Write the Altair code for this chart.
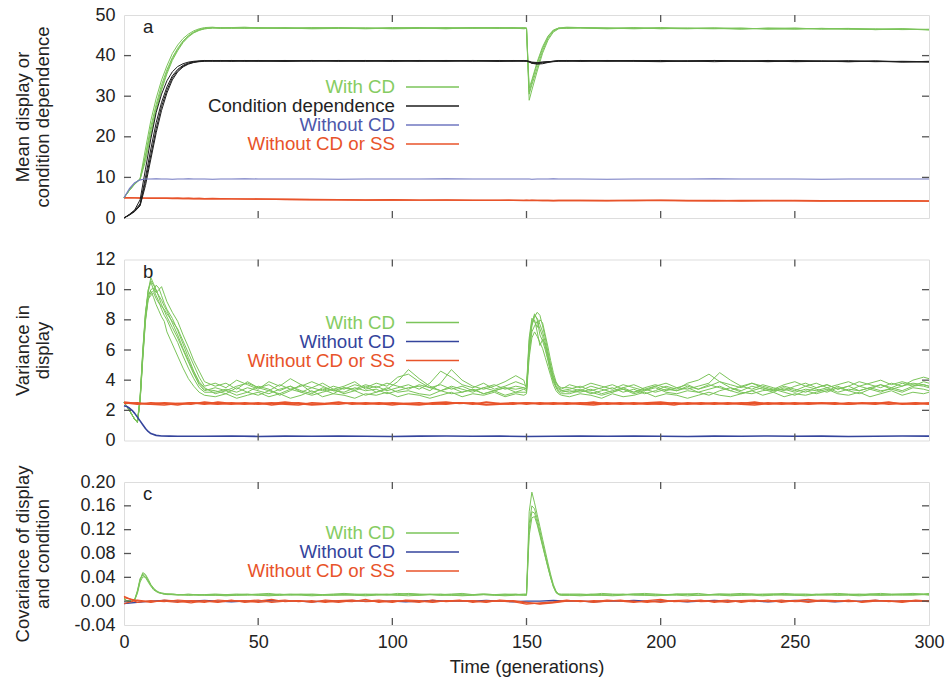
import altair as alt
import pandas as pd

FONT = "Liberation Sans"
W = 805
FRAME = "#555555"
TXT = "#222222"
GREEN = "#7bc45a"
GREEN_TXT = "#86cc62"
BLACK = "#1e1e1e"
BLUE = "#34449c"
BLUE_A = "#7177c0"
BLUE_A_TXT = "#4d57aa"
RED = "#e8532a"

# ---------------- time grids (generations) ----------------
T_A = [0, 2, 4, 6, 8, 10, 12, 14, 16, 18, 20, 22, 24, 26, 28, 30, 33, 36, 40, 45, 50,
       60, 70, 80, 90, 100, 110, 120, 130, 140, 145, 149, 150, 151, 152, 154, 156, 158,
       160, 162, 165, 170, 180, 190, 200, 210, 220, 230, 240, 250, 260, 270, 280, 290, 300]
T_B = (list(range(0, 17)) + list(range(18, 31, 2)) + list(range(34, 147, 4))
       + list(range(149, 164)) + list(range(166, 299, 4)) + [300])
T_R = list(range(0, 301, 5))
T_BLUE_B = [0, 1, 2, 3, 4, 5, 6, 7, 8, 9, 10, 12, 14, 17, 20] + list(range(30, 301, 10))

# ---------------- panel a: mean display / condition dependence ----------------
A_WITH_CD = [
    [5.0, 6.8, 8.4, 9.6, 15.5, 22.5, 28.0, 32.8, 36.5, 39.5, 41.8, 43.6, 44.9, 45.8, 46.4, 46.7,
     46.9, 46.8, 46.9, 46.7, 46.8, 46.9, 46.7, 46.8, 46.6, 46.8, 46.9, 46.7, 46.8, 46.9, 46.8,
     46.8, 46.7, 29.0, 31.5, 36.2, 40.6, 43.8, 45.8, 46.6, 46.9, 46.8, 46.7, 46.9, 46.6, 46.8,
     46.7, 46.5, 46.8, 46.6, 46.7, 46.5, 46.6, 46.4, 46.5],
    [5.0, 6.8, 8.3, 9.5, 14.0, 20.5, 26.5, 31.5, 35.5, 38.8, 41.2, 43.2, 44.6, 45.6, 46.2, 46.6,
     46.8, 46.9, 46.7, 46.8, 46.9, 46.7, 46.8, 46.9, 46.8, 46.7, 46.8, 46.9, 46.7, 46.8, 46.9,
     46.7, 46.8, 30.5, 32.8, 37.0, 41.2, 44.2, 46.0, 46.7, 46.8, 46.9, 46.8, 46.6, 46.8, 46.7,
     46.6, 46.8, 46.5, 46.7, 46.6, 46.7, 46.4, 46.6, 46.4],
    [5.0, 6.9, 8.5, 9.7, 17.0, 24.0, 29.5, 34.0, 37.5, 40.5, 42.6, 44.2, 45.3, 46.1, 46.6, 46.9,
     47.0, 46.8, 46.9, 47.0, 46.8, 46.7, 46.9, 46.8, 46.7, 46.9, 46.8, 46.6, 46.9, 46.8, 46.7,
     46.9, 46.8, 31.0, 33.5, 38.0, 41.8, 44.6, 46.2, 46.8, 47.0, 46.9, 46.8, 46.7, 46.9, 46.7,
     46.8, 46.6, 46.7, 46.8, 46.5, 46.6, 46.5, 46.6, 46.3],
    [5.0, 6.8, 8.4, 9.6, 15.0, 21.5, 27.2, 32.0, 36.0, 39.2, 41.5, 43.4, 44.8, 45.7, 46.3, 46.6,
     46.8, 46.7, 46.8, 46.9, 46.7, 46.8, 46.6, 46.7, 46.8, 46.6, 46.7, 46.8, 46.9, 46.7, 46.8,
     46.6, 46.7, 32.0, 34.0, 38.5, 42.2, 44.8, 46.3, 46.8, 46.7, 46.8, 46.6, 46.8, 46.7, 46.6,
     46.8, 46.7, 46.6, 46.5, 46.7, 46.6, 46.4, 46.5, 46.4],
]
A_COND_DEP = [
    [0.0, 0.8, 1.8, 3.5, 10.0, 17.0, 23.5, 28.5, 32.3, 35.0, 36.6, 37.6, 38.2, 38.5, 38.6, 38.7,
     38.7, 38.8, 38.6, 38.7, 38.8, 38.6, 38.7, 38.8, 38.7, 38.6, 38.8, 38.7, 38.6, 38.8, 38.7,
     38.6, 38.7, 38.5, 38.3, 38.2, 38.4, 38.5, 38.6, 38.7, 38.6, 38.8, 38.7, 38.6, 38.5, 38.7,
     38.8, 38.6, 38.7, 38.5, 38.6, 38.7, 38.5, 38.6, 38.5],
    [0.0, 0.7, 1.6, 3.0, 8.0, 14.5, 21.0, 26.5, 30.8, 34.0, 36.0, 37.2, 37.9, 38.3, 38.5, 38.6,
     38.7, 38.6, 38.8, 38.6, 38.7, 38.8, 38.6, 38.7, 38.6, 38.8, 38.7, 38.6, 38.8, 38.7, 38.6,
     38.8, 38.6, 38.4, 38.1, 38.0, 38.2, 38.4, 38.6, 38.7, 38.8, 38.6, 38.7, 38.8, 38.6, 38.7,
     38.5, 38.7, 38.6, 38.8, 38.6, 38.5, 38.7, 38.5, 38.4],
    [0.0, 0.9, 2.0, 4.5, 12.0, 19.5, 26.0, 30.5, 33.8, 36.0, 37.3, 38.0, 38.4, 38.6, 38.7, 38.8,
     38.6, 38.7, 38.8, 38.7, 38.6, 38.7, 38.8, 38.6, 38.7, 38.8, 38.6, 38.7, 38.8, 38.6, 38.7,
     38.7, 38.8, 38.6, 38.4, 38.3, 38.4, 38.5, 38.6, 38.8, 38.7, 38.6, 38.8, 38.7, 38.7, 38.6,
     38.8, 38.7, 38.5, 38.7, 38.6, 38.7, 38.6, 38.4, 38.6],
    [0.0, 0.8, 1.7, 3.2, 9.0, 15.5, 22.0, 27.5, 31.5, 34.5, 36.3, 37.4, 38.0, 38.4, 38.6, 38.7,
     38.8, 38.7, 38.6, 38.8, 38.7, 38.6, 38.8, 38.7, 38.8, 38.6, 38.7, 38.8, 38.7, 38.6, 38.8,
     38.7, 38.6, 38.5, 38.1, 37.9, 38.0, 38.3, 38.5, 38.6, 38.7, 38.8, 38.6, 38.7, 38.8, 38.6,
     38.7, 38.6, 38.8, 38.6, 38.7, 38.5, 38.6, 38.5, 38.5],
]
A_WITHOUT_CD = [
    [5.0, 7.2, 8.7, 9.4, 9.6, 9.6, 9.65, 9.6, 9.6, 9.55, 9.6, 9.6, 9.65, 9.6, 9.6, 9.6, 9.55,
     9.6, 9.6, 9.65, 9.6, 9.6, 9.6, 9.55, 9.6, 9.6, 9.6, 9.65, 9.6, 9.6, 9.6, 9.6, 9.6, 9.6,
     9.55, 9.6, 9.6, 9.6, 9.65, 9.6, 9.6, 9.6, 9.55, 9.6, 9.6, 9.6, 9.65, 9.6, 9.6, 9.6, 9.55,
     9.6, 9.6, 9.6, 9.6],
]
A_WITHOUT_CD_SS = [
    [5.0, 5.0, 4.95, 4.95, 4.9, 4.9, 4.9, 4.85, 4.9, 4.85, 4.85, 4.8, 4.85, 4.8, 4.8, 4.75, 4.8,
     4.75, 4.7, 4.7, 4.65, 4.6, 4.55, 4.5, 4.45, 4.5, 4.4, 4.45, 4.4, 4.35, 4.4, 4.35, 4.4, 4.35,
     4.4, 4.35, 4.3, 4.35, 4.3, 4.35, 4.3, 4.35, 4.3, 4.3, 4.4, 4.3, 4.25, 4.3, 4.3, 4.25, 4.2,
     4.25, 4.2, 4.25, 4.2],
    [5.0, 4.95, 4.95, 4.9, 4.9, 4.85, 4.9, 4.85, 4.85, 4.8, 4.85, 4.8, 4.8, 4.75, 4.8, 4.75, 4.7,
     4.75, 4.7, 4.65, 4.7, 4.55, 4.5, 4.5, 4.4, 4.45, 4.4, 4.4, 4.35, 4.4, 4.35, 4.3, 4.35, 4.3,
     4.35, 4.3, 4.35, 4.3, 4.25, 4.3, 4.35, 4.3, 4.25, 4.35, 4.3, 4.25, 4.3, 4.2, 4.25, 4.3, 4.25,
     4.2, 4.25, 4.2, 4.15],
]

# ---------------- panel b: variance in display ----------------
B_WITH_CD = [
    [2.5, 2.3, 2.0, 1.7, 1.4, 1.2, 2.8, 5.8, 8.3, 9.9, 10.8, 10.4, 9.9, 9.6, 9.3, 8.9, 8.6,
     7.8, 7.0, 6.1, 5.3, 4.5, 3.8, 3.4]
    + [3.3, 3.1, 3.5, 3.2, 3.6, 3.4, 3.0, 3.3, 3.7, 3.2, 3.4, 3.1, 3.5, 3.3, 3.6, 3.2, 3.4,
       3.9, 4.7, 4.1, 3.6, 3.3, 3.5, 3.2, 3.4, 3.1, 3.3, 3.5, 3.2]
    + [3.4, 3.3, 6.0, 7.6, 8.2, 8.5, 8.3, 7.6, 6.8, 5.9, 5.0, 4.3, 3.8, 3.5, 3.3]
    + [3.2, 3.4, 3.1, 3.3, 3.5, 3.2, 3.4, 3.1, 3.3, 3.6, 3.4, 3.8, 4.0, 4.4, 3.9, 3.5, 3.3,
       3.6, 3.4, 3.2, 3.5, 3.3, 3.6, 3.4, 3.2, 3.5, 3.3, 3.6, 3.4, 3.7, 3.5, 3.8, 3.6, 3.9, 3.8],
    [2.5, 2.3, 2.0, 1.7, 1.4, 1.2, 2.6, 5.5, 8.0, 9.5, 10.0, 10.1, 9.8, 10.0, 10.2, 9.7, 9.2,
     8.5, 7.9, 7.0, 6.2, 5.3, 4.6, 3.9]
    + [3.6, 3.8, 3.4, 3.9, 3.5, 3.7, 3.3, 3.6, 3.2, 3.5, 3.8, 3.4, 3.6, 3.9, 3.4, 3.6, 3.3,
       3.5, 3.7, 3.4, 3.8, 4.6, 4.2, 3.7, 3.5, 3.8, 3.4, 3.6, 3.9]
    + [3.7, 3.6, 6.8, 8.1, 7.9, 7.5, 8.0, 7.8, 7.0, 6.2, 5.3, 4.5, 3.9, 3.6, 3.5]
    + [3.5, 3.3, 3.6, 3.4, 3.2, 3.5, 3.7, 3.4, 3.6, 3.3, 3.5, 3.4, 3.6, 3.8, 4.5, 4.0, 3.6,
       3.4, 3.7, 3.5, 3.3, 3.6, 3.8, 3.5, 3.7, 3.4, 3.6, 3.9, 3.7, 3.5, 3.8, 3.6, 4.0, 4.2, 4.1],
    [2.5, 2.3, 2.0, 1.7, 1.4, 1.3, 2.9, 6.0, 8.5, 9.7, 9.9, 9.5, 9.0, 8.6, 8.2, 7.9, 7.2,
     6.4, 5.6, 4.8, 4.1, 3.6, 3.2, 3.0]
    + [2.9, 3.1, 2.8, 3.0, 3.2, 2.9, 3.1, 2.8, 3.0, 3.3, 2.9, 3.1, 3.0, 2.8, 3.1, 3.0, 3.2,
       2.9, 3.1, 3.0, 2.8, 3.0, 3.2, 2.9, 3.1, 3.0, 3.2, 2.9, 3.1]
    + [3.0, 3.1, 5.5, 6.8, 7.2, 6.9, 6.5, 6.1, 5.5, 4.9, 4.3, 3.7, 3.3, 3.1, 3.0]
    + [2.9, 3.1, 3.0, 2.8, 3.1, 2.9, 3.0, 3.2, 2.9, 3.1, 3.0, 2.8, 3.0, 3.2, 3.0, 2.9, 3.1,
       3.3, 3.0, 3.2, 2.9, 3.1, 3.0, 3.2, 3.4, 3.1, 3.0, 3.2, 2.9, 3.1, 3.3, 3.0, 3.2, 3.1, 3.2],
    [2.5, 2.3, 2.0, 1.7, 1.4, 1.2, 2.7, 5.6, 8.1, 9.4, 9.6, 9.8, 9.4, 9.1, 8.9, 8.7, 8.4,
     7.9, 7.4, 6.6, 5.8, 5.0, 4.2, 3.6]
    + [3.8, 3.5, 4.0, 3.7, 3.4, 3.9, 3.6, 4.1, 3.7, 3.5, 3.3, 3.6, 3.4, 3.7, 3.5, 3.8, 3.6,
       4.2, 4.4, 3.9, 3.5, 3.7, 3.4, 3.6, 3.3, 3.5, 3.7, 3.4, 3.6]
    + [3.5, 3.4, 6.3, 7.8, 8.0, 7.2, 6.3, 6.7, 6.4, 5.6, 4.8, 4.2, 3.8, 3.6, 3.4]
    + [3.7, 3.5, 3.8, 3.6, 3.4, 3.7, 3.5, 3.3, 3.6, 3.8, 3.5, 3.7, 3.4, 3.6, 3.9, 3.7, 3.5,
       3.8, 3.6, 3.4, 3.7, 3.9, 3.6, 3.8, 3.5, 3.7, 3.9, 3.6, 3.8, 4.0, 3.7, 3.9, 3.7, 3.6, 3.5],
    [2.5, 2.3, 2.0, 1.7, 1.4, 1.2, 2.8, 5.9, 8.4, 10.0, 10.5, 10.0, 9.6, 9.2, 8.7, 8.3, 8.0,
     7.2, 6.5, 5.6, 4.8, 4.1, 3.5, 3.2]
    + [3.2, 3.4, 3.2, 3.5, 3.3, 3.1, 3.4, 3.6, 3.3, 3.1, 3.5, 3.3, 3.2, 3.5, 3.3, 3.4, 3.1,
       3.3, 3.5, 3.6, 3.3, 3.8, 4.7, 4.0, 3.6, 3.4, 3.6, 3.9, 4.3]
    + [4.0, 3.4, 6.6, 7.9, 8.3, 8.1, 7.7, 7.2, 6.5, 5.7, 4.9, 4.1, 3.6, 3.3, 3.2]
    + [3.3, 3.2, 3.4, 3.1, 3.3, 3.5, 3.2, 3.4, 3.2, 3.4, 3.3, 3.5, 3.2, 3.4, 3.6, 3.3, 3.1,
       3.3, 3.5, 3.3, 3.4, 3.2, 3.4, 3.3, 3.5, 3.2, 3.4, 3.3, 3.5, 3.3, 3.4, 3.2, 3.5, 3.4, 3.3],
    [2.5, 2.3, 2.0, 1.7, 1.4, 1.2, 2.7, 5.7, 8.2, 9.8, 10.6, 10.3, 10.0, 9.5, 9.0, 8.6, 8.2,
     7.5, 6.8, 6.0, 5.2, 4.4, 3.7, 3.3]
    + [3.5, 3.3, 3.6, 3.8, 3.5, 3.3, 3.7, 3.4, 3.6, 3.9, 3.6, 3.3, 3.5, 3.4, 3.7, 3.5, 3.8,
       3.6, 3.4, 3.7, 3.5, 3.3, 3.6, 3.4, 3.2, 3.5, 3.3, 3.5, 3.4]
    + [3.5, 3.4, 5.8, 7.2, 7.6, 7.9, 7.4, 6.9, 6.2, 5.4, 4.6, 4.0, 3.6, 3.4, 3.3]
    + [3.4, 3.6, 3.3, 3.5, 3.7, 3.4, 3.2, 3.5, 3.7, 3.5, 3.3, 3.6, 3.4, 3.7, 3.5, 3.3, 3.6,
       3.8, 3.5, 3.3, 3.6, 3.4, 3.2, 3.5, 3.7, 3.4, 3.6, 3.3, 3.5, 3.7, 3.4, 3.6, 3.8, 3.7, 3.6],
    [2.5, 2.3, 2.0, 1.7, 1.4, 1.2, 2.6, 5.4, 7.9, 9.3, 9.8, 9.9, 10.3, 10.1, 9.6, 9.1, 8.7,
     8.1, 7.3, 6.4, 5.5, 4.6, 3.9, 3.5]
    + [3.1, 3.3, 3.0, 3.2, 3.0, 3.3, 3.1, 3.4, 3.2, 3.0, 3.2, 3.4, 3.1, 3.3, 3.0, 3.2, 3.5,
       3.2, 3.3, 3.1, 3.0, 3.3, 3.1, 3.2, 3.4, 3.1, 3.3, 3.0, 3.2]
    + [3.2, 3.2, 6.2, 7.7, 8.4, 8.0, 7.0, 6.6, 6.0, 5.3, 4.5, 3.9, 3.5, 3.2, 3.1]
    + [3.1, 3.3, 3.2, 3.0, 3.2, 3.4, 3.1, 3.3, 3.5, 3.2, 3.1, 3.3, 3.2, 3.0, 3.3, 3.5, 3.2,
       3.1, 3.3, 3.4, 3.2, 3.0, 3.3, 3.1, 3.3, 3.6, 3.3, 3.1, 3.4, 3.2, 3.5, 3.3, 3.6, 3.7, 3.6],
]
B_WITHOUT_CD = [
    [2.3, 2.25, 2.15, 2.0, 1.8, 1.55, 1.3, 1.05, 0.8, 0.6, 0.46, 0.34, 0.3, 0.29, 0.28,
     0.28, 0.3, 0.27, 0.29, 0.28, 0.3, 0.28, 0.27, 0.29, 0.3, 0.28, 0.29, 0.27, 0.28, 0.3,
     0.28, 0.29, 0.28, 0.27, 0.29, 0.28, 0.3, 0.28, 0.29, 0.27, 0.28, 0.3, 0.29],
]
B_WITHOUT_CD_SS = [
    [2.5, 2.4, 2.5, 2.45, 2.35, 2.5, 2.4, 2.55, 2.45, 2.4, 2.5, 2.35, 2.45, 2.5, 2.4, 2.45,
     2.55, 2.4, 2.5, 2.45, 2.35, 2.45, 2.5, 2.4, 2.45, 2.5, 2.4, 2.55, 2.45, 2.4, 2.5, 2.45,
     2.4, 2.5, 2.45, 2.55, 2.4, 2.45, 2.5, 2.4, 2.45, 2.35, 2.5, 2.45, 2.4, 2.5, 2.45, 2.55,
     2.4, 2.45, 2.5, 2.4, 2.45, 2.5, 2.4, 2.45, 2.5, 2.4, 2.45, 2.5, 2.45],
    [2.45, 2.5, 2.4, 2.5, 2.45, 2.4, 2.55, 2.45, 2.4, 2.5, 2.45, 2.5, 2.4, 2.35, 2.5, 2.45,
     2.4, 2.5, 2.45, 2.4, 2.5, 2.45, 2.4, 2.5, 2.55, 2.45, 2.5, 2.4, 2.45, 2.5, 2.4, 2.5,
     2.45, 2.4, 2.5, 2.45, 2.5, 2.4, 2.45, 2.5, 2.55, 2.45, 2.4, 2.5, 2.45, 2.4, 2.5, 2.45,
     2.5, 2.4, 2.45, 2.5, 2.45, 2.4, 2.5, 2.45, 2.4, 2.5, 2.45, 2.4, 2.5],
    [2.55, 2.45, 2.4, 2.35, 2.45, 2.5, 2.45, 2.4, 2.5, 2.45, 2.4, 2.45, 2.55, 2.45, 2.35,
     2.4, 2.5, 2.45, 2.4, 2.5, 2.45, 2.4, 2.35, 2.45, 2.4, 2.5, 2.45, 2.35, 2.4, 2.45, 2.5,
     2.4, 2.5, 2.45, 2.4, 2.35, 2.45, 2.5, 2.4, 2.45, 2.4, 2.5, 2.45, 2.4, 2.5, 2.45, 2.4,
     2.35, 2.45, 2.5, 2.4, 2.45, 2.5, 2.45, 2.4, 2.5, 2.45, 2.55, 2.4, 2.45, 2.4],
]

# ---------------- panel c: covariance of display and condition ----------------
C_WITH_CD = [
    [0.004, 0.001, 0.0, 0.0, 0.002, 0.015, 0.035, 0.046, 0.043, 0.035, 0.027, 0.021, 0.017,
     0.014, 0.013, 0.012, 0.012, 0.011, 0.011, 0.011, 0.010, 0.011, 0.010, 0.011]
    + [0.011, 0.010, 0.011, 0.012, 0.010, 0.011, 0.010, 0.011, 0.012, 0.011, 0.010, 0.011,
       0.010, 0.011, 0.012, 0.011, 0.010, 0.011, 0.013, 0.012, 0.011, 0.010, 0.011, 0.010,
       0.011, 0.012, 0.011, 0.010, 0.011]
    + [0.011, 0.011, 0.150, 0.183, 0.165, 0.145, 0.125, 0.104, 0.084, 0.064, 0.045, 0.028,
       0.017, 0.012, 0.011]
    + [0.011, 0.010, 0.012, 0.011, 0.010, 0.011, 0.012, 0.011, 0.010, 0.011, 0.011, 0.012,
       0.010, 0.011, 0.012, 0.011, 0.010, 0.011, 0.012, 0.012, 0.011, 0.010, 0.011, 0.011,
       0.012, 0.010, 0.011, 0.012, 0.011, 0.010, 0.011, 0.012, 0.011, 0.012, 0.011],
    [0.004, 0.001, 0.0, 0.0, 0.003, 0.018, 0.038, 0.044, 0.040, 0.032, 0.025, 0.019, 0.016,
     0.014, 0.013, 0.012, 0.011, 0.011, 0.010, 0.011, 0.010, 0.010, 0.011, 0.010]
    + [0.010, 0.011, 0.010, 0.010, 0.011, 0.010, 0.012, 0.010, 0.011, 0.010, 0.011, 0.010,
       0.011, 0.010, 0.010, 0.011, 0.012, 0.010, 0.011, 0.010, 0.011, 0.012, 0.010, 0.011,
       0.010, 0.011, 0.010, 0.011, 0.012]
    + [0.010, 0.010, 0.120, 0.150, 0.148, 0.132, 0.113, 0.094, 0.075, 0.057, 0.040, 0.025,
       0.015, 0.011, 0.010]
    + [0.010, 0.011, 0.010, 0.010, 0.011, 0.012, 0.010, 0.010, 0.011, 0.010, 0.012, 0.011,
       0.010, 0.010, 0.011, 0.010, 0.011, 0.012, 0.010, 0.011, 0.010, 0.011, 0.010, 0.012,
       0.011, 0.010, 0.011, 0.010, 0.012, 0.011, 0.010, 0.011, 0.012, 0.011, 0.012],
    [0.004, 0.001, 0.0, 0.0, 0.002, 0.013, 0.032, 0.041, 0.040, 0.034, 0.027, 0.021, 0.017,
     0.015, 0.013, 0.012, 0.012, 0.012, 0.011, 0.010, 0.011, 0.011, 0.010, 0.011]
    + [0.012, 0.011, 0.012, 0.011, 0.012, 0.013, 0.011, 0.012, 0.011, 0.012, 0.011, 0.012,
       0.013, 0.012, 0.011, 0.012, 0.011, 0.013, 0.012, 0.011, 0.012, 0.011, 0.012, 0.013,
       0.011, 0.012, 0.011, 0.012, 0.011]
    + [0.012, 0.012, 0.130, 0.160, 0.155, 0.138, 0.118, 0.098, 0.078, 0.059, 0.041, 0.026,
       0.016, 0.012, 0.012]
    + [0.012, 0.012, 0.011, 0.013, 0.012, 0.011, 0.012, 0.013, 0.012, 0.011, 0.012, 0.012,
       0.013, 0.011, 0.012, 0.012, 0.013, 0.012, 0.011, 0.012, 0.013, 0.012, 0.012, 0.011,
       0.012, 0.013, 0.012, 0.011, 0.012, 0.013, 0.012, 0.012, 0.013, 0.012, 0.013],
    [0.004, 0.001, 0.0, 0.0, 0.003, 0.016, 0.036, 0.048, 0.045, 0.037, 0.028, 0.022, 0.018,
     0.015, 0.014, 0.013, 0.012, 0.012, 0.011, 0.011, 0.012, 0.011, 0.011, 0.010]
    + [0.010, 0.009, 0.010, 0.011, 0.010, 0.009, 0.010, 0.011, 0.010, 0.009, 0.010, 0.010,
       0.011, 0.010, 0.009, 0.010, 0.011, 0.010, 0.009, 0.010, 0.011, 0.010, 0.010, 0.009,
       0.010, 0.011, 0.010, 0.009, 0.010]
    + [0.010, 0.010, 0.110, 0.140, 0.142, 0.128, 0.110, 0.092, 0.074, 0.056, 0.039, 0.024,
       0.014, 0.011, 0.010]
    + [0.010, 0.009, 0.010, 0.010, 0.009, 0.010, 0.011, 0.010, 0.009, 0.010, 0.010, 0.009,
       0.010, 0.011, 0.010, 0.009, 0.010, 0.010, 0.009, 0.010, 0.011, 0.010, 0.009, 0.010,
       0.010, 0.011, 0.010, 0.009, 0.010, 0.010, 0.011, 0.010, 0.010, 0.011, 0.010],
]
C_WITHOUT_CD = [
    [-0.004, -0.002, 0.000, 0.001, 0.000, 0.000, 0.001, 0.000, -0.001, 0.000, 0.000, 0.001,
     0.000, 0.000, -0.001, 0.000, 0.000, 0.001, 0.000, 0.000, 0.000, -0.001, 0.000, 0.001,
     0.000, 0.000, 0.000, 0.001, 0.000, -0.001, 0.000, 0.000, 0.001, 0.000, 0.000, -0.001,
     0.000, 0.000, 0.001, 0.000, 0.000, 0.000, -0.001, 0.000, 0.001, 0.000, 0.000, 0.000,
     -0.001, 0.000, 0.001, 0.000, 0.000, -0.001, 0.000, 0.000, 0.001, 0.000, 0.000, 0.000,
     0.000],
]
C_WITHOUT_CD_SS = [
    [0.006, 0.001, -0.002, 0.002, 0.000, -0.003, 0.001, -0.001, 0.002, -0.002, 0.000, 0.003,
     -0.001, 0.001, -0.002, 0.002, 0.000, -0.001, 0.003, -0.002, 0.001, 0.000, -0.002, 0.002,
     -0.001, 0.001, 0.000, -0.002, 0.002, 0.000, -0.003, -0.004, -0.002, 0.001, 0.000, -0.001,
     0.002, 0.000, -0.002, 0.001, 0.003, -0.001, 0.000, 0.002, -0.002, 0.001, 0.000, -0.001,
     0.002, -0.002, 0.001, 0.003, 0.000, -0.001, 0.002, -0.002, 0.000, 0.001, -0.001, 0.002,
     0.000],
    [0.008, -0.002, 0.001, -0.001, 0.002, 0.000, -0.002, 0.002, 0.000, 0.001, -0.002, 0.000,
     0.002, -0.001, 0.001, -0.002, 0.001, 0.002, -0.001, 0.000, -0.002, 0.002, 0.001, -0.001,
     0.000, 0.002, -0.002, 0.001, 0.000, -0.001, -0.005, -0.003, -0.001, 0.002, -0.001, 0.001,
     0.000, 0.002, -0.001, 0.000, -0.002, 0.001, 0.002, -0.001, 0.000, 0.002, -0.002, 0.001,
     0.000, 0.002, -0.001, 0.000, 0.002, 0.001, -0.001, 0.000, 0.002, -0.001, 0.001, 0.000,
     0.001],
    [-0.004, 0.002, -0.001, 0.000, -0.002, 0.001, 0.000, -0.002, 0.001, 0.000, 0.002, -0.002,
     0.000, 0.001, -0.001, 0.000, -0.002, 0.001, 0.000, 0.002, -0.001, 0.001, 0.000, -0.002,
     0.001, 0.000, 0.001, -0.001, 0.000, 0.001, -0.002, -0.005, -0.003, 0.000, 0.001, -0.002,
     0.000, 0.001, 0.000, -0.002, 0.001, 0.000, -0.001, 0.001, 0.000, -0.002, 0.001, 0.002,
     -0.001, 0.000, 0.001, -0.002, 0.001, 0.000, 0.001, -0.001, 0.001, 0.000, -0.002, 0.001,
     -0.001],
]

X_TICKS = [50, 100, 150, 200, 250]
X_LABELS = [0, 50, 100, 150, 200, 250, 300]


def frame(times, reps, name):
    rows = []
    for i, vals in enumerate(reps):
        for t, v in zip(times, vals):
            rows.append({"t": t, "v": v, "run": f"{name}-{i}"})
    return pd.DataFrame(rows)


def build_panel(h, ydom, yvals, yfmt, ytitle, letter, series, legend, legend_y0, show_x):
    x_axis = None
    if show_x:
        x_axis = alt.Axis(values=X_LABELS, ticks=False, domain=False, grid=False,
                          labelFont=FONT, labelFontSize=18, labelColor=TXT, labelPadding=8,
                          labelFlush=False,
                          title="Time (generations)", titleFont=FONT, titleFontSize=18.5,
                          titleFontWeight="normal", titleColor=TXT, titlePadding=6)
    y_axis = alt.Axis(values=yvals, format=yfmt, ticks=False, domain=False, grid=False,
                      labelFont=FONT, labelFontSize=18, labelColor=TXT, labelPadding=9,
                      labelFlush=False,
                      labelExpr="replace(datum.label, '\u2212', '-')",
                      title=ytitle, titleFont=FONT, titleFontSize=18.5, titleFontWeight="normal",
                      titleColor=TXT, titleAngle=-90, titleX=-102, titleY=h / 2,
                      titleAlign="center", titleBaseline="middle", titleLineHeight=20)
    xs = alt.Scale(domain=[0, 300], nice=False, zero=False)
    ys = alt.Scale(domain=ydom, nice=False, zero=False)
    X = alt.X("t:Q", scale=xs, axis=x_axis)
    Y = alt.Y("v:Q", scale=ys, axis=y_axis)

    layers = []
    for times, reps, name, color, width in series:
        layers.append(
            alt.Chart(frame(times, reps, name))
            .mark_line(color=color, strokeWidth=width, strokeJoin="round")
            .encode(x=X, y=Y, detail="run:N")
        )

    # inward tick marks on all four sides of the frame
    xt = pd.DataFrame({"t": X_TICKS})
    yt = pd.DataFrame({"v": [y for y in yvals if ydom[0] < y < ydom[1]]})
    tick = dict(color=FRAME, strokeWidth=1.3)
    layers += [
        alt.Chart(xt).mark_rule(**tick).encode(x=X, y=alt.value(0), y2=alt.value(7)),
        alt.Chart(xt).mark_rule(**tick).encode(x=X, y=alt.value(h), y2=alt.value(h - 7)),
        alt.Chart(yt).mark_rule(**tick).encode(y=Y, x=alt.value(0), x2=alt.value(7)),
        alt.Chart(yt).mark_rule(**tick).encode(y=Y, x=alt.value(W), x2=alt.value(W - 7)),
    ]

    # panel letter
    layers.append(
        alt.Chart(pd.DataFrame({"label": [letter]}))
        .mark_text(align="left", baseline="middle", font=FONT, fontSize=18.5, color=TXT)
        .encode(text="label:N", x=alt.value(19), y=alt.value(12))
    )

    # in-plot key: right-aligned label followed by a short line sample
    for i, (label, tcolor, lcolor) in enumerate(legend):
        yy = legend_y0 + i * 19
        src = pd.DataFrame({"label": [label]})
        layers.append(
            alt.Chart(src)
            .mark_text(align="right", baseline="middle", font=FONT, fontSize=18.7, color=tcolor)
            .encode(text="label:N", x=alt.value(271), y=alt.value(yy))
        )
        layers.append(
            alt.Chart(src)
            .mark_rule(color=lcolor, strokeWidth=1.3)
            .encode(x=alt.value(282), x2=alt.value(335), y=alt.value(yy))
        )

    return alt.layer(*layers).properties(width=W, height=h)


panel_a = build_panel(
    203, [0, 50], [0, 10, 20, 30, 40, 50], "d", ["Mean display or", "condition dependence"], "a",
    [
        (T_A, A_WITHOUT_CD_SS, "a-noss", RED, 1.4),
        (T_A, A_WITH_CD, "a-cd", GREEN, 1.0),
        (T_A, A_COND_DEP, "a-dep", BLACK, 1.0),
        (T_A, A_WITHOUT_CD, "a-nocd", BLUE_A, 1.2),
    ],
    [("With CD", GREEN_TXT, GREEN), ("Condition dependence", TXT, BLACK),
     ("Without CD", BLUE_A_TXT, BLUE_A), ("Without CD or SS", RED, RED)],
    72, False,
)

panel_b = build_panel(
    181, [0, 12], [0, 2, 4, 6, 8, 10, 12], "d", ["Variance in", "display"], "b",
    [
        (T_B, B_WITH_CD, "b-cd", GREEN, 1.0),
        (T_R, B_WITHOUT_CD_SS, "b-noss", RED, 1.5),
        (T_BLUE_B, B_WITHOUT_CD, "b-nocd", BLUE, 1.6),
    ],
    [("With CD", GREEN_TXT, GREEN), ("Without CD", BLUE, BLUE),
     ("Without CD or SS", RED, RED)],
    63, False,
)

panel_c = build_panel(
    143, [-0.04, 0.2], [-0.04, 0.0, 0.04, 0.08, 0.12, 0.16, 0.2], ".2f",
    ["Covariance of display", "and condition"], "c",
    [
        (T_B, C_WITH_CD, "c-cd", GREEN, 1.0),
        (T_R, C_WITHOUT_CD, "c-nocd", BLUE, 1.4),
        (T_R, C_WITHOUT_CD_SS, "c-noss", RED, 1.2),
    ],
    [("With CD", GREEN_TXT, GREEN), ("Without CD", BLUE, BLUE),
     ("Without CD or SS", RED, RED)],
    51, True,
)

chart = (
    alt.vconcat(panel_a, panel_b, panel_c, spacing=41.5, bounds="flush")
    .properties(padding={"left": 12, "top": 5, "right": 0, "bottom": 5})
    .configure_view(stroke=FRAME, strokeWidth=1.5)
    .configure(font=FONT)
)

chart.save("out.html", embed_options={"renderer": "svg", "actions": False})
